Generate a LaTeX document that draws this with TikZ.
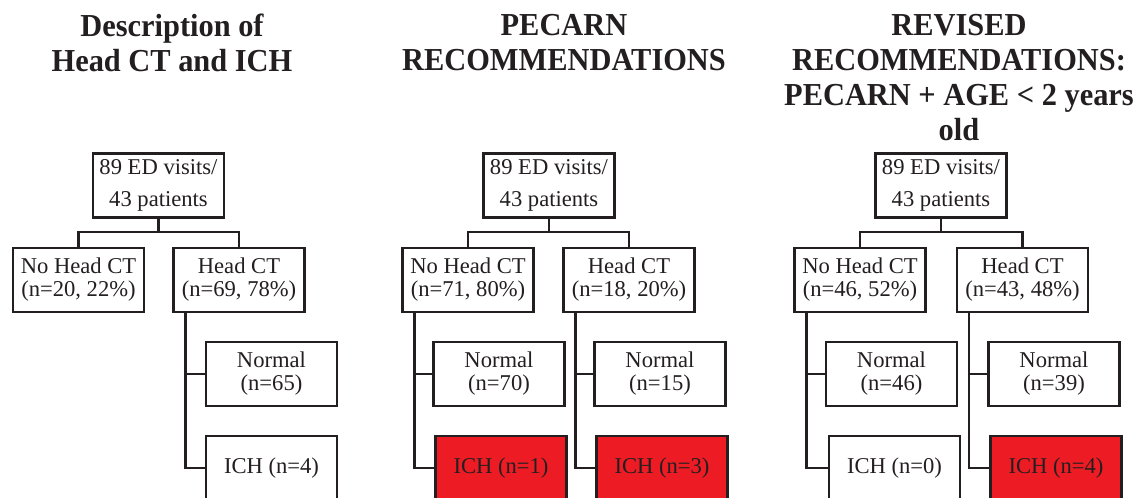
\documentclass[tikz,border=0pt]{standalone}
\usepackage{fontspec}
\setmainfont{Liberation Serif}
\newfontfamily\titlefont{Liberation Serif}[FakeStretch=0.95]
\usetikzlibrary{calc}
\definecolor{ink}{HTML}{231F20}
\definecolor{ichred}{HTML}{ED1C24}
\begin{document}
\begin{tikzpicture}[x=0.5pt,y=-0.5pt,
  box/.style={draw=ink, line width=1.15pt, minimum width=65.5pt, minimum height=32pt, inner sep=0pt, align=center, text=ink, font=\fontsize{11.3}{11.5}\selectfont},
  topbox/.style={box, font=\fontsize{11.3}{16}\selectfont},
  redbox/.style={box, fill=ichred},
  conn/.style={draw=ink, line width=1.15pt},
  title/.style={align=center, text=ink, font=\titlefont\bfseries\fontsize{16}{17.5}\selectfont, anchor=north, inner sep=0pt}]
\clip (0,0) rectangle (1137,498);
\fill[white] (0,0) rectangle (1137,498);
% titles
\node[title] (h1) at (172,14) {Description of\\Head CT and ICH};
\node[title] (h2) at (564,14) {PECARN\\RECOMMENDATIONS};
\node[title] (h3) at (959,14) {REVISED\\RECOMMENDATIONS:\\PECARN + AGE < 2 years\\old};
% panel 1
\node[topbox] (t1) at (158.5,185.5) {89 ED visits/\\43 patients};
\node[box] (n1) at (78.5,280) {No Head CT\\(n=20, 22\%)};
\node[box] (c1) at (239,280) {Head CT\\(n=69, 78\%)};
\node[box] (m1) at (271.5,374) {Normal\\(n=65)};
\node[box] (i1) at (271.5,468) {ICH (n=4)};
% panel 2
\node[topbox] (t2) at (549,185.5) {89 ED visits/\\43 patients};
\node[box] (n2) at (468,280) {No Head CT\\(n=71, 80\%)};
\node[box] (c2) at (629,280) {Head CT\\(n=18, 20\%)};
\node[box] (m2) at (499,374) {Normal\\(n=70)};
\node[redbox] (i2) at (501,468) {ICH (n=1)};
\node[box] (m3) at (660,374) {Normal\\(n=15)};
\node[redbox] (i3) at (662,468) {ICH (n=3)};
% panel 3
\node[topbox] (t3) at (941,185.5) {89 ED visits/\\43 patients};
\node[box] (n3) at (860,280) {No Head CT\\(n=46, 52\%)};
\node[box] (c3) at (1022.5,280) {Head CT\\(n=43, 48\%)};
\node[box] (m4) at (891.5,374) {Normal\\(n=46)};
\node[box] (i4) at (894.5,468) {ICH (n=0)};
\node[box] (m5) at (1054,374) {Normal\\(n=39)};
\node[redbox] (i5) at (1056,468) {ICH (n=4)};
% top splits
\foreach \t/\a/\b in {t1/n1/c1, t2/n2/c2, t3/n3/c3}{
  \draw[conn] (\t.south) -- ++(0,13.5) coordinate (j) -| (\a.north);
  \draw[conn] (j) -| (\b.north);
}
% trunks
\foreach \p/\m/\i in {c1/m1/i1, n2/m2/i2, c2/m3/i3, n3/m4/i4, c3/m5/i5}{
  \coordinate (k) at ($(\p.south west)+(13,0)$);
  \draw[conn] (k) |- (\i.west);
  \draw[conn] (k |- \m.west) -- (\m.west);
}
\end{tikzpicture}
\end{document}
